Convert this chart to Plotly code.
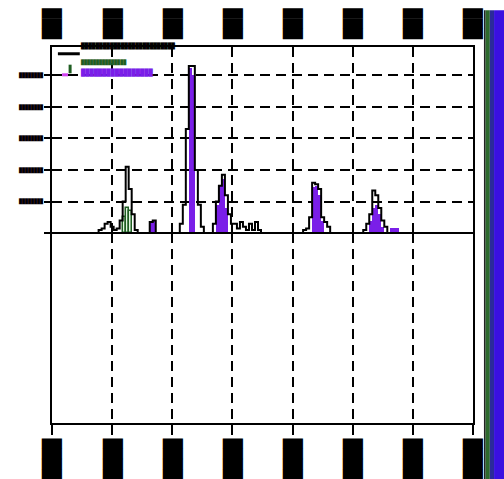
import numpy as np
import plotly.graph_objects as go

# ---- binned counts (bin width 0.05, values given at bin centres) ----
BIN_WIDTH = 0.05

total_x = [0.80, 0.85, 0.90, 0.95, 1.00, 1.05, 1.10, 1.15, 1.20, 1.25, 1.30, 1.35, 1.40,
           1.65, 1.70,
           2.15, 2.20, 2.25, 2.30, 2.35, 2.40, 2.45, 2.50,
           2.70, 2.75, 2.80, 2.85, 2.90, 2.95, 3.00,
           3.05, 3.10, 3.15, 3.20, 3.25, 3.30, 3.35, 3.40, 3.45,
           4.20, 4.25, 4.30, 4.35, 4.40, 4.45, 4.50, 4.55, 4.60,
           5.20, 5.25, 5.30, 5.35, 5.40, 5.45, 5.50, 5.55]
total_y = [0.10, 0.15, 0.30, 0.35, 0.20, 0.10, 0.15, 0.40, 1.00, 2.10, 1.40, 0.60, 0.10,
           0.35, 0.40,
           0.30, 0.90, 3.30, 5.30, 5.30, 2.00, 0.90, 0.20,
           0.30, 1.00, 1.50, 1.85, 1.20, 0.60, 0.30,
           0.30, 0.15, 0.35, 0.20, 0.10, 0.30, 0.10, 0.35, 0.10,
           0.10, 0.15, 0.50, 1.60, 1.55, 1.40, 0.50, 0.35, 0.20,
           0.10, 0.30, 0.60, 1.35, 1.20, 0.80, 0.40, 0.20]

green_x = [1.20, 1.25, 1.30]
green_y = [0.50, 0.80, 0.70]

purple_x = [1.65, 1.70,
            2.30, 2.35,
            2.75, 2.80, 2.85, 2.90,
            4.35, 4.40, 4.45, 4.50,
            5.30, 5.35, 5.40, 5.45, 5.50, 5.65, 5.70, 5.75]
purple_y = [0.40, 0.40,
            5.25, 5.00,
            0.90, 1.50, 1.70, 0.80,
            1.45, 1.50, 1.20, 0.40,
            0.40, 0.80, 0.90, 0.60, 0.20, 0.15, 0.15, 0.15]

x_ticks = [0, 1, 2, 3, 4, 5, 6, 7]
x_ticktext_bottom = ["████"] * len(x_ticks)
x_ticktext_top = ["███"] * len(x_ticks)
y_ticks = [0, 1, 2, 3, 4, 5, 6]
y_ticktext = [""] + ["████████"] * 6

PURPLE = "#7a1fe8"
GREEN = "#1f5e22"
BLOCK_FONT = "DejaVu Sans Mono"

# legend rows: label text, colour, font size
legend_labels = ["█" * 26, "█" * 15, "█" * 17]
legend_colors = ["black", GREEN, PURPLE]
legend_sizes = [6, 5, 7]

# step outline of the total: rebuild a continuous grid of bins so the line returns to zero
grid = np.round(np.arange(0.0, 7.0 + BIN_WIDTH / 2, BIN_WIDTH), 2)
step_vals = np.zeros_like(grid)
for xv, yv in zip(total_x, total_y):
    step_vals[np.argmin(np.abs(grid - xv))] = yv
step_edges = grid - BIN_WIDTH / 2

fig = go.Figure()
fig.add_trace(go.Bar(x=purple_x, y=purple_y, width=BIN_WIDTH, showlegend=False,
                     marker=dict(color=PURPLE, line=dict(width=0))))
fig.add_trace(go.Bar(x=green_x, y=green_y, width=BIN_WIDTH, showlegend=False,
                     marker=dict(color="#dff5df", line=dict(color=GREEN, width=1.5))))
fig.add_trace(go.Scatter(x=step_edges, y=step_vals, mode="lines", line_shape="hv",
                         showlegend=False, line=dict(color="black", width=2)))

# empty companions so the lower panel and the top axis are laid out
fig.add_trace(go.Scatter(x=[0], y=[None], xaxis="x", yaxis="y2", showlegend=False,
                         hoverinfo="skip", mode="lines"))
fig.add_trace(go.Scatter(x=[0], y=[None], xaxis="x2", yaxis="y", showlegend=False,
                         hoverinfo="skip", mode="lines"))

dash = "10px,6px"
fig.update_layout(
    width=504, height=479,
    margin=dict(l=52, r=31, t=47, b=56),
    paper_bgcolor="white", plot_bgcolor="white",
    barmode="overlay", bargap=0,
    showlegend=False,
    xaxis=dict(domain=[0, 1], anchor="y2", range=[0, 7], tickvals=x_ticks,
               ticktext=x_ticktext_bottom, tickangle=90, automargin=False,
               tickfont=dict(family=BLOCK_FONT, size=17, color="black"),
               ticks="outside", ticklen=10, tickwidth=2, tickcolor="black",
               showline=True, linecolor="black", linewidth=2,
               showgrid=True, gridcolor="black", gridwidth=2, griddash=dash, zeroline=False),
    xaxis2=dict(overlaying="x", matches="x", anchor="y", side="top", tickvals=x_ticks,
                ticktext=x_ticktext_top, tickangle=90, automargin=False,
                tickfont=dict(family=BLOCK_FONT, size=17, color="black"),
                ticks="", ticklabelstandoff=0, showline=True, linecolor="black", linewidth=2,
                showgrid=True, gridcolor="black", gridwidth=2, griddash=dash, zeroline=False),
    yaxis=dict(domain=[0.505, 1], anchor="x", range=[0, 5.9], tickvals=y_ticks,
               ticktext=y_ticktext, automargin=False,
               tickfont=dict(family=BLOCK_FONT, size=5, color="black"),
               ticks="outside", ticklen=6, tickwidth=2, tickcolor="black",
               showline=True, mirror=True, linecolor="black", linewidth=2,
               showgrid=True, gridcolor="black", gridwidth=2, griddash=dash, zeroline=False),
    yaxis2=dict(domain=[0, 0.505], anchor="x", range=[0, 1], showticklabels=False, ticks="",
                automargin=False, showline=True, mirror=True, linecolor="black", linewidth=2,
                showgrid=False, zeroline=False),
)

# solid divider between the two panels
fig.add_shape(type="line", xref="paper", yref="paper", x0=0, x1=1, y0=0.505, y1=0.505,
              line=dict(color="black", width=2))

# legend drawn by hand: compact rows with a key mark and a coloured label
legend_rows_y = [1.002, 0.960, 0.931]
fig.add_shape(type="line", xref="paper", yref="paper", x0=0.014, x1=0.066,
              y0=0.982, y1=0.982, line=dict(color="black", width=3))
fig.add_shape(type="line", xref="paper", yref="paper", x0=0.043, x1=0.043,
              y0=0.930, y1=0.953, line=dict(color=GREEN, width=3))
fig.add_shape(type="rect", xref="paper", yref="paper", x0=0.024, x1=0.038,
              y0=0.922, y1=0.930, fillcolor="#d040f0", line=dict(width=0))
for label, col, size, ry in zip(legend_labels, legend_colors, legend_sizes, legend_rows_y):
    fig.add_annotation(text=label, xref="paper", yref="paper", x=0.062, y=ry,
                       xanchor="left", yanchor="middle", showarrow=False,
                       font=dict(family=BLOCK_FONT, size=size, color=col))

# coloured side stripes along the right edge
for x0, x1, col in [(1.026, 1.030, "#222222"), (1.030, 1.040, "#2d6a2d"),
                    (1.040, 1.050, "#2b2a9a"), (1.050, 1.08, "#3a10e0")]:
    fig.add_shape(type="rect", xref="paper", yref="paper", x0=x0, x1=x1, y0=-0.2, y1=1.098,
                  fillcolor=col, line=dict(width=0), layer="above")

fig.write_html("out.html")
